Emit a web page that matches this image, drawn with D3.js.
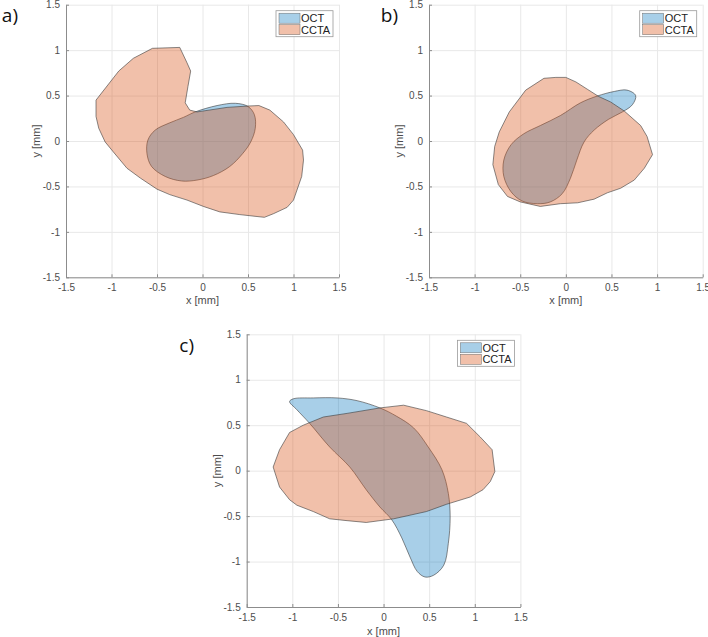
<!DOCTYPE html>
<html lang="en">
  <head>
    <meta charset="UTF-8" />
    <title>OCT vs CCTA</title>
    <script src="https://cdn.jsdelivr.net/npm/d3@7/dist/d3.min.js"></script>
    <style>
      body { margin: 0; background: #fff; }
      text { font-family: "Liberation Sans", Arial, sans-serif; }
    </style>
  </head>
  <body>
    <svg width="708" height="637"></svg>
  </body>

  <script>
    // tick values (both axes)
    var ticks = [-1.5, -1, -0.5, 0, 0.5, 1, 1.5];
    var seriesNames = ['OCT', 'CCTA'];

    // panel a) contours [x, y] in mm
    var octA = [[-0.08,0.32],[0.16,0.39],[0.36,0.415],[0.5,0.38],[0.57,0.29],[0.58,0.14],[0.53,-0.01],[0.44,-0.14],[0.3,-0.28],[0.12,-0.38],[-0.06,-0.43],[-0.23,-0.44],[-0.41,-0.39],[-0.56,-0.28],[-0.61,-0.14],[-0.6,0.01],[-0.52,0.12],[-0.36,0.2],[-0.21,0.26]];
    var cctaA = [[-1.17,0.45],[-0.92,0.77],[-0.76,0.91],[-0.55,1.02],[-0.25,1.03],[-0.17,0.86],[-0.13,0.77],[-0.16,0.6],[-0.19,0.42],[-0.14,0.34],[-0.06,0.32],[0.27,0.37],[0.5,0.385],[0.62,0.39],[0.74,0.34],[0.89,0.21],[1.0,0.07],[1.1,-0.1],[1.11,-0.21],[1.09,-0.39],[1.0,-0.65],[0.93,-0.73],[0.78,-0.8],[0.68,-0.84],[0.41,-0.81],[0.19,-0.78],[0.01,-0.72],[-0.17,-0.65],[-0.36,-0.59],[-0.5,-0.53],[-0.68,-0.41],[-0.83,-0.3],[-0.98,-0.12],[-1.07,-0.01],[-1.14,0.14],[-1.17,0.27]];

    // panel b)
    var octB = [[0.345,0.495],[0.53,0.545],[0.67,0.56],[0.765,0.5],[0.73,0.4],[0.62,0.32],[0.47,0.24],[0.31,0.12],[0.2,-0.01],[0.12,-0.21],[0.05,-0.41],[-0.04,-0.58],[-0.17,-0.67],[-0.31,-0.69],[-0.48,-0.66],[-0.6,-0.56],[-0.68,-0.39],[-0.68,-0.21],[-0.6,-0.04],[-0.46,0.08],[-0.28,0.17],[-0.06,0.28],[0.16,0.42]];
    var cctaB = [[-0.24,0.69],[-0.11,0.7],[0.0,0.7],[0.11,0.65],[0.235,0.57],[0.36,0.49],[0.49,0.43],[0.64,0.33],[0.82,0.17],[0.89,0.05],[0.95,-0.15],[0.86,-0.3],[0.75,-0.43],[0.6,-0.52],[0.455,-0.57],[0.31,-0.64],[0.13,-0.68],[-0.06,-0.69],[-0.28,-0.72],[-0.5,-0.67],[-0.64,-0.61],[-0.74,-0.48],[-0.8,-0.26],[-0.78,-0.06],[-0.73,0.1],[-0.62,0.32],[-0.44,0.56]];

    // panel c)
    var octC = [[-1.03,0.76],[-0.99,0.79],[-0.77,0.8],[-0.51,0.8],[-0.29,0.77],[-0.04,0.69],[0.14,0.6],[0.33,0.47],[0.49,0.26],[0.64,0.01],[0.71,-0.25],[0.73,-0.51],[0.71,-0.8],[0.66,-1.04],[0.55,-1.15],[0.455,-1.17],[0.37,-1.11],[0.29,-0.95],[0.2,-0.74],[0.09,-0.54],[-0.04,-0.4],[-0.19,-0.21],[-0.37,0.04],[-0.59,0.26],[-0.81,0.52],[-0.95,0.67]];
    var cctaC = [[-1.21,0.04],[-1.14,0.23],[-1.03,0.42],[-0.88,0.5],[-0.66,0.59],[-0.4,0.63],[-0.04,0.69],[0.22,0.72],[0.47,0.66],[0.69,0.59],[0.91,0.52],[1.06,0.37],[1.19,0.23],[1.22,-0.01],[1.17,-0.12],[1.09,-0.21],[0.95,-0.29],[0.69,-0.37],[0.47,-0.45],[0.11,-0.53],[-0.19,-0.57],[-0.4,-0.55],[-0.59,-0.53],[-0.77,-0.45],[-0.95,-0.38],[-1.03,-0.32],[-1.14,-0.18]];

    var colors = { OCT: '#0072bd', CCTA: '#d95319' };
    var alphas = { OCT: 0.34, CCTA: 0.37 };

    var panels = [
      { label: 'a)', lx: 18, ly: 22, x0: 66, y0: 4.7, w: 273, h: 272.6, oct: octA, ccta: cctaA, xlab: 304 },
      { label: 'b)', lx: 398, ly: 22, x0: 429, y0: 4.7, w: 273.7, h: 272.6, oct: octB, ccta: cctaB, xlab: 304 },
      { label: 'c)', lx: 194, ly: 352, x0: 246.7, y0: 334.3, w: 273.7, h: 272.7, oct: octC, ccta: cctaC, xlab: 635 }
    ];

    var svg = d3.select('svg');

    panels.forEach(function (p) {
      var x = d3.scaleLinear().domain([-1.5, 1.5]).range([0, p.w]);
      var y = d3.scaleLinear().domain([-1.5, 1.5]).range([p.h, 0]);
      var g = svg.append('g').attr('transform', 'translate(' + p.x0 + ',' + p.y0 + ')');

      // grid
      g.append('g')
        .attr('transform', 'translate(0,' + p.h + ')')
        .call(d3.axisBottom(x).tickValues(ticks).tickSize(-p.h).tickFormat(''))
        .call(function (s) {
          s.select('.domain').remove();
          s.selectAll('line').attr('stroke', '#e8e8e8');
        });
      g.append('g')
        .call(d3.axisLeft(y).tickValues(ticks).tickSize(-p.w).tickFormat(''))
        .call(function (s) {
          s.select('.domain').remove();
          s.selectAll('line').attr('stroke', '#e8e8e8');
        });

      // shapes
      var line = d3.line()
        .x(function (d) { return x(d[0]); })
        .y(function (d) { return y(d[1]); });
      g.append('path')
        .datum(p.oct)
        .attr('d', line.curve(d3.curveCatmullRomClosed.alpha(0.5)))
        .attr('fill', colors.OCT)
        .attr('fill-opacity', alphas.OCT)
        .attr('stroke', '#3a3a3a')
        .attr('stroke-width', 0.6);
      g.append('path')
        .datum(p.ccta)
        .attr('d', line.curve(d3.curveLinearClosed))
        .attr('fill', colors.CCTA)
        .attr('fill-opacity', alphas.CCTA)
        .attr('stroke', '#3a3a3a')
        .attr('stroke-width', 0.6);

      // axes (ticks inside, MATLAB style)
      var fmt = function (d) { return String(d); };
      var ax = g.append('g')
        .attr('transform', 'translate(0,' + p.h + ')')
        .call(d3.axisBottom(x).tickValues(ticks).tickSizeInner(-3).tickSizeOuter(0).tickPadding(7).tickFormat(fmt));
      var ay = g.append('g')
        .call(d3.axisLeft(y).tickValues(ticks).tickSizeInner(-3).tickSizeOuter(0).tickPadding(6).tickFormat(fmt));
      [ax, ay].forEach(function (a) {
        a.select('.domain').attr('stroke', '#8c8c8c');
        a.selectAll('line').attr('stroke', '#8c8c8c');
        a.selectAll('text').attr('fill', '#4d4d4d').style('font-size', '10px');
      });

      // axis titles
      svg.append('text')
        .attr('x', p.x0 + x(0))
        .attr('y', p.xlab)
        .attr('text-anchor', 'middle')
        .attr('fill', '#4d4d4d')
        .style('font-size', '11px')
        .text('x [mm]');
      svg.append('text')
        .attr('transform', 'translate(' + (p.x0 - 26) + ',' + (p.y0 + y(0)) + ') rotate(-90)')
        .attr('text-anchor', 'middle')
        .attr('fill', '#4d4d4d')
        .style('font-size', '11px')
        .text('y [mm]');

      // panel label
      svg.append('text')
        .attr('x', p.lx)
        .attr('y', p.ly)
        .attr('text-anchor', 'end')
        .attr('fill', '#111')
        .style('font-family', '"Open Sans", sans-serif')
        .style('font-size', '19px')
        .text(p.label);

      // legend
      var lw = 57, lh = 26;
      var lg = g.append('g').attr('transform', 'translate(' + (p.w - 6 - lw) + ',6)');
      lg.append('rect').attr('width', lw).attr('height', lh).attr('fill', '#fff').attr('stroke', '#9a9a9a').attr('stroke-width', 0.8);
      seriesNames.forEach(function (n, i) {
        lg.append('rect')
          .attr('x', 3).attr('y', 2.5 + i * 11.5)
          .attr('width', 21).attr('height', 10)
          .attr('fill', colors[n]).attr('fill-opacity', alphas[n])
          .attr('stroke', '#6a6a6a').attr('stroke-width', 0.5);
        lg.append('text')
          .attr('x', 25).attr('y', 11.5 + i * 11.5)
          .attr('fill', '#222')
          .style('font-size', '11px')
          .text(n);
      });
    });
  </script>
</html>
